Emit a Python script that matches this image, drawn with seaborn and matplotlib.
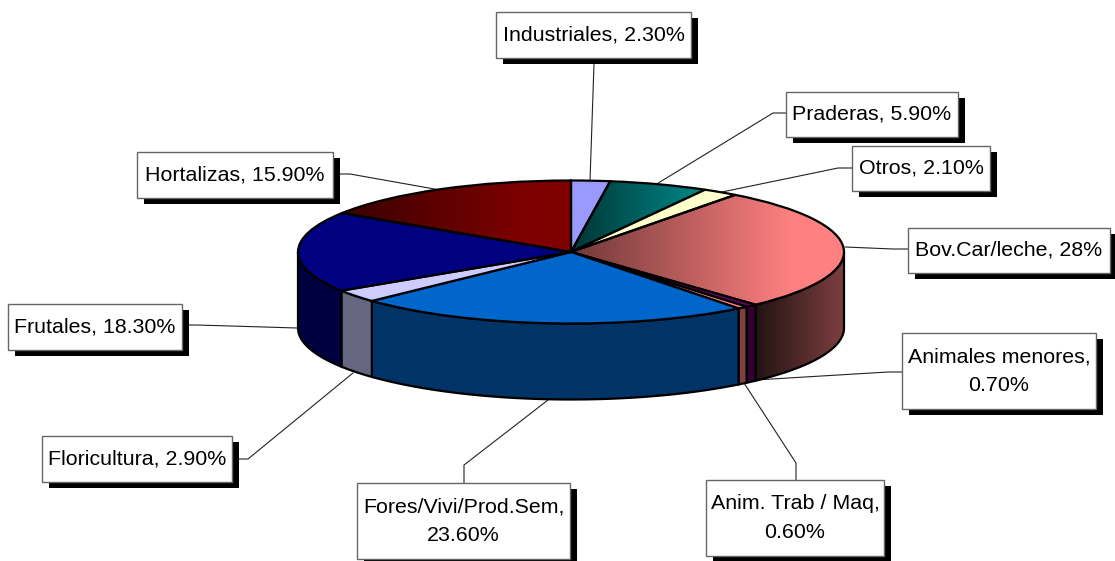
# -*- coding: utf-8 -*-
"""Torta 3D de distribución por rubro (estilo Excel)."""

import numpy as np
import matplotlib
matplotlib.use("Agg")
import matplotlib.pyplot as plt
import seaborn as sns
from matplotlib.patches import Rectangle
from matplotlib.transforms import Affine2D

# datos
rubros = ["Industriales", "Praderas", "Otros", "Bov.Car/leche", "Animales menores",
          "Anim. Trab / Maq", "Fores/Vivi/Prod.Sem", "Floricultura", "Frutales", "Hortalizas"]
valores = [2.3, 5.9, 2.1, 28.0, 0.7, 0.6, 23.6, 2.9, 18.3, 15.9]
textos = ["Industriales, 2.30%", "Praderas, 5.90%", "Otros, 2.10%", "Bov.Car/leche, 28%",
          "Animales menores,\n0.70%", "Anim. Trab / Maq,\n0.60%", "Fores/Vivi/Prod.Sem,\n23.60%",
          "Floricultura, 2.90%", "Frutales, 18.30%", "Hortalizas, 15.90%"]

# colores de la cara superior y de la pared
colores_top = ["#9999FF", "#008080", "#FFFFCC", "#FF8080", "#660066",
               "#FF8080", "#0066CC", "#CCCCFF", "#000080", "#800000"]
colores_pared = ["#4D4D80", "#004040", "#808066", "#804040", "#330033",
                 "#804040", "#003366", "#666680", "#000040", "#400000"]

# degradados: rubro -> (color oscuro, x inicio, x fin) en pixeles
grad_top = {"Hortalizas": ("#380000", 340, 530),
            "Praderas": ("#003434", 570, 690),
            "Bov.Car/leche": ("#703838", 570, 790)}
grad_pared = {"Bov.Car/leche": ("#1C1010", 750, 845)}

# geometria en pixeles
W, H = 1115, 561
CX, CY, RX, RY, PROF = 571, 252, 273, 71.5, 76

# cajas (x0, y0, x1, y1) y lineas guia en pixeles
cajas = [(496, 12, 691, 58), (786, 92, 958, 137), (852, 146, 990, 191), (908, 228, 1110, 273),
         (902, 333, 1096, 409), (706, 480, 884, 556), (357, 483, 570, 559),
         (42, 436, 232, 482), (8, 304, 182, 350), (137, 152, 333, 198)]
guias = [[(594, 64), (590, 181)],
         [(786, 113), (773, 113), (655, 185)],
         [(852, 168), (838, 168), (722, 192)],
         [(908, 249), (893, 249), (845, 247)],
         [(902, 372), (888, 372), (755, 380)],
         [(796, 480), (796, 463), (744, 383)],
         [(464, 483), (464, 465), (548, 400)],
         [(238, 459), (248, 459), (353, 373)],
         [(188, 325), (197, 325), (297, 328)],
         [(339, 174), (350, 174), (440, 190)]]

sns.set_theme(style="white")
plt.rcParams['font.family'] = ['Liberation Sans', 'DejaVu Sans']

fig = plt.figure(figsize=(W / 100, H / 100), dpi=100)
ax = fig.add_axes([0, 0, 1, 1])
LIM_X = ((0 - CX) / RX, (W - CX) / RX)
LIM_Y = ((CY - H) / RY, CY / RY)
px = Affine2D().scale(1, -1).translate(0, H)


def x_unidad(x):
    return (x - CX) / RX


def degradado(parche, oscuro, claro, x0, x1, z):
    """Pinta un degradado horizontal recortado al parche."""
    rampa = np.array(sns.blend_palette([oscuro, claro], 256))[:, :3][np.newaxis, :, :]
    im = ax.imshow(rampa, extent=(x_unidad(x0), x_unidad(x1), LIM_Y[0], LIM_Y[1]),
                   aspect='auto', zorder=z, interpolation='bilinear')
    # fuera del rango se extiende con el color final
    fondo = ax.imshow(rampa[:, [-1], :], extent=(x_unidad(x1), LIM_X[1], LIM_Y[0], LIM_Y[1]),
                      aspect='auto', zorder=z)
    im.set_clip_path(parche)
    fondo.set_clip_path(parche)


# guias debajo de la torta
for guia in guias:
    xs, ys = zip(*guia)
    ax.plot(xs, ys, color="#222222", lw=0.8, transform=px, zorder=1)

# pared lateral: solo la mitad de adelante
acum = np.cumsum([0] + valores) / sum(valores) * 2 * np.pi
prof_u = PROF / RY
for i, rubro in enumerate(rubros):
    ini, fin = max(acum[i], np.pi / 2), min(acum[i + 1], 3 * np.pi / 2)
    if ini >= fin:
        continue
    t = np.linspace(ini, fin, 60)
    xs = np.concatenate([np.sin(t), np.sin(t[::-1])])
    ys = np.concatenate([np.cos(t), np.cos(t[::-1]) - prof_u])
    if rubro in grad_pared:
        oscuro, x0, x1 = grad_pared[rubro]
        parche = ax.fill(xs, ys, facecolor='none', edgecolor='black', lw=1.6, zorder=4)[0]
        degradado(parche, oscuro, colores_pared[i], x0, x1, 3)
    else:
        ax.fill(xs, ys, facecolor=colores_pared[i], edgecolor='black', lw=1.6, zorder=4)

# cara superior
wedges, _ = ax.pie(valores, colors=sns.color_palette(colores_top), startangle=90,
                   counterclock=False, radius=1,
                   wedgeprops=dict(edgecolor='black', linewidth=1.6, zorder=6))
for i, (w, rubro) in enumerate(zip(wedges, rubros)):
    if rubro in grad_top:
        oscuro, x0, x1 = grad_top[rubro]
        w.set_facecolor('none')
        degradado(w, oscuro, colores_top[i], x0, x1, 5)

ax.set_aspect('auto')
ax.set_xlim(*LIM_X)
ax.set_ylim(*LIM_Y)
ax.axis('off')

# etiquetas con sombra
for (x0, y0, x1, y1), texto in zip(cajas, textos):
    ax.add_patch(Rectangle((x0 + 7, y0 + 6), x1 - x0, y1 - y0, facecolor='black',
                           edgecolor='none', transform=px, zorder=8))
    ax.add_patch(Rectangle((x0, y0), x1 - x0, y1 - y0, facecolor='white',
                           edgecolor='#666666', lw=1.0, transform=px, zorder=9))
    ax.text((x0 + x1) / 2, (y0 + y1) / 2, texto, transform=px, ha='center', va='center',
            fontsize=15.4, color='black', linespacing=1.65, zorder=10)

fig.savefig("out.png", dpi=100)
